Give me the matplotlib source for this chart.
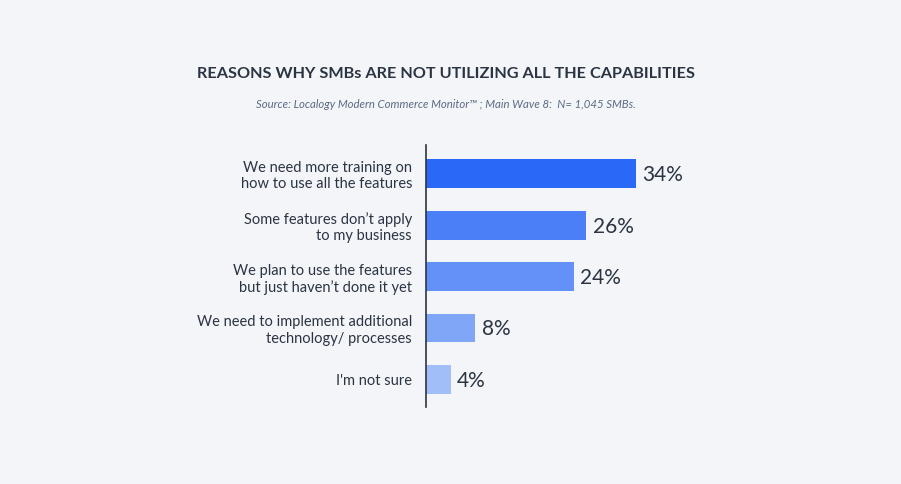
import matplotlib
matplotlib.use("Agg")
import matplotlib.pyplot as plt

# data
categories = [
    "We need more training on\nhow to use all the features",
    "Some features don\u2019t apply\nto my business",
    "We plan to use the features\nbut just haven\u2019t done it yet",
    "We need to implement additional\ntechnology/ processes",
    "I'm not sure",
]
values = [34, 26, 24, 8, 4]
bar_colors = ["#2a69f7", "#4a7ff7", "#6391f7", "#80a6f8", "#a1bef9"]

title = "REASONS WHY SMBs ARE NOT UTILIZING ALL THE CAPABILITIES"
source = "Source: Localogy Modern Commerce Monitor\u2122 ; Main Wave 8:  N= 1,045 SMBs."

bg = "#f4f5f9"
text_col = "#2b3442"

plt.rcParams['font.family'] = ['Lato', 'DejaVu Sans']

W, H = 901, 484
fig = plt.figure(figsize=(W / 100, H / 100), dpi=100, facecolor=bg)

# axes placed in pixel terms
ax_left, ax_top, ax_bottom = 426, 145, 407
px_per_unit = 6.17
xmax = 50
ax = fig.add_axes([ax_left / W, (H - ax_bottom) / H,
                   px_per_unit * xmax / W, (ax_bottom - ax_top) / H])
ax.set_facecolor(bg)

ypos = list(range(len(values)))
ax.barh(ypos, values, height=0.56, color=bar_colors)
ax.set_xlim(0, xmax)
ax.set_ylim(4.54, -0.56)

for y, v in zip(ypos, values):
    ax.text(v + 1.0, y + 0.03, f"{v}%", va='center', ha='left',
            fontsize=15, color=text_col)

ax.set_yticks(ypos)
ax.set_yticklabels(categories, fontsize=10.5, color=text_col, linespacing=1.2)
ax.tick_params(axis='y', length=0, pad=10)
ax.set_xticks([])
for s in ['top', 'right', 'bottom']:
    ax.spines[s].set_visible(False)
ax.spines['left'].set_color(text_col)
ax.spines['left'].set_linewidth(1.2)

fig.text(446 / W, 1 - 74 / H, title, ha='center', va='center',
         fontsize=11.7, fontweight='bold', color=text_col)
fig.text(446 / W, 1 - 105 / H, source, ha='center', va='center',
         fontsize=8.2, style='italic', color="#5b6b82")

fig.savefig("out.png", dpi=100, facecolor=bg)
